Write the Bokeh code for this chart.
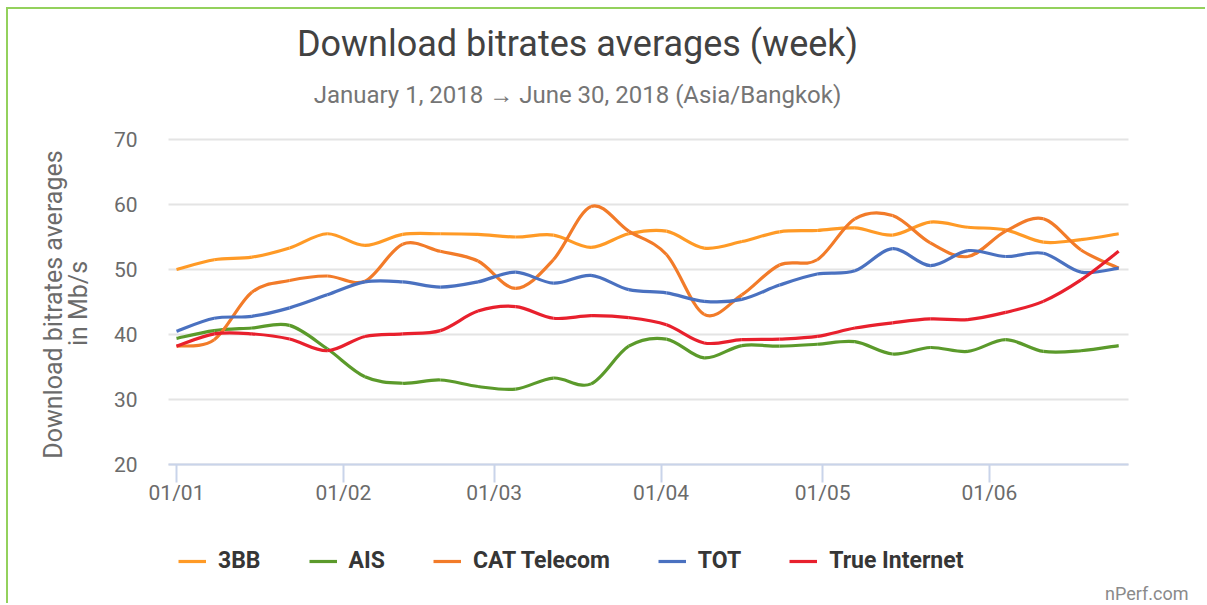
from datetime import datetime, timedelta
import numpy as np
from bokeh.plotting import figure
from bokeh.models import (Range1d, FixedTicker, DatetimeTickFormatter, Label,
                          Legend, LegendItem, ColumnDataSource)
from bokeh.embed import file_html
from bokeh.resources import INLINE

# ---------------- data ----------------
weeks = ["2018-01-01", "2018-01-08", "2018-01-15", "2018-01-22", "2018-01-29",
         "2018-02-05", "2018-02-12", "2018-02-19", "2018-02-26", "2018-03-05",
         "2018-03-12", "2018-03-19", "2018-03-26", "2018-04-02", "2018-04-09",
         "2018-04-16", "2018-04-23", "2018-04-30", "2018-05-07", "2018-05-14",
         "2018-05-21", "2018-05-28", "2018-06-04", "2018-06-11", "2018-06-18",
         "2018-06-25"]

bb3 = [50.0, 51.5, 51.9, 53.3, 55.5, 53.7, 55.4, 55.5, 55.4, 55.0, 55.3, 53.4, 55.5,
       55.9, 53.3, 54.3, 55.8, 56.0, 56.4, 55.3, 57.3, 56.5, 56.1, 54.2, 54.6, 55.5]
ais = [39.4, 40.6, 41.0, 41.4, 37.8, 33.5, 32.5, 33.0, 32.0, 31.6, 33.3, 32.4, 38.2,
       39.3, 36.4, 38.3, 38.2, 38.5, 38.9, 37.0, 38.0, 37.4, 39.2, 37.4, 37.5, 38.3]
cat = [38.2, 39.2, 46.5, 48.3, 49.0, 48.2, 53.9, 52.8, 51.3, 47.1, 51.5, 59.7, 55.9,
       52.3, 43.1, 46.1, 50.7, 51.5, 57.8, 58.3, 54.1, 52.0, 55.9, 57.8, 53.0, 50.2]
tot = [40.5, 42.5, 42.8, 44.1, 46.1, 48.1, 48.1, 47.3, 48.1, 49.6, 47.9, 49.1, 46.9,
       46.4, 45.1, 45.4, 47.6, 49.3, 49.8, 53.2, 50.6, 52.9, 52.0, 52.5, 49.6, 50.2]
true_net = [38.2, 40.1, 40.1, 39.3, 37.5, 39.7, 40.1, 40.6, 43.6, 44.3, 42.5, 42.9, 42.6,
            41.5, 38.7, 39.2, 39.3, 39.7, 41.0, 41.8, 42.4, 42.3, 43.4, 45.1, 48.4, 52.8]

series_names = ["3BB", "AIS", "CAT Telecom", "TOT", "True Internet"]
series_values = [bb3, ais, cat, tot, true_net]
series_colors = ["#ff9a26", "#5b9a2b", "#f27b29", "#4a71c0", "#e8202d"]

month_ticks = ["2018-01-01", "2018-02-01", "2018-03-01", "2018-04-01",
               "2018-05-01", "2018-06-01"]
y_ticks = [20, 30, 40, 50, 60, 70]

title_text = "Download bitrates averages (week)"
subtitle_text = "January 1, 2018 \u2192 June 30, 2018 (Asia/Bangkok)"
ylabel_outer = "Download bitrates averages"
ylabel_inner = "in Mb/s"
credit_text = "nPerf.com"

# ---------------- helpers ----------------
EPOCH = datetime(1970, 1, 1)


def ms(d):
    return (d - EPOCH).total_seconds() * 1000.0


def to_ms(strs):
    return np.array(strs, dtype="datetime64[ms]").astype("int64").astype(float)


# canvas origin on the page (after the css margin + border below)
OX, OY = 8, 9
PAGE_W, PAGE_H = 1207, 605
# page-pixel geometry of the plotting area of the reference
FL, FR, FT, FB = 168, 1128, 139, 464
X0_PX, PX_PER_DAY = 176.0, 5.384
Y_PX = (FB - FT) / 50.0
JAN1 = datetime(2018, 1, 1)


def xd(px):
    return ms(JAN1 + timedelta(days=(px - X0_PX) / PX_PER_DAY))


def yd(py):
    return 70 - (py - FT) / Y_PX


W, H = PAGE_W - OX, PAGE_H - OY
# the frame covers the whole canvas; axes are drawn at fixed data locations
p = figure(width=W, height=H, x_axis_type="datetime",
           x_range=Range1d(xd(OX), xd(PAGE_W)), y_range=Range1d(yd(PAGE_H), yd(OY)),
           output_backend="svg", toolbar_location=None,
           min_border_left=0, min_border_right=0,
           min_border_top=0, min_border_bottom=0)
p.styles = {"margin-left": "6px", "margin-top": "7px",
            "border-left": "2px solid #93d15c", "border-top": "2px solid #93d15c"}
p.outline_line_color = None
p.background_fill_color = "white"
p.border_fill_color = "white"
p.xgrid.grid_line_color = None
p.ygrid.grid_line_color = None

# x axis drawn at y = 20
xa = p.xaxis[0]
xa.fixed_location = 20
xa.bounds = (xd(FL), xd(FR))
xa.ticker = FixedTicker(ticks=list(to_ms(month_ticks)))
xa.formatter = DatetimeTickFormatter(days="%d/%m", months="%d/%m", years="%d/%m")
xa.axis_line_color = "#c9d4ea"
xa.axis_line_width = 2
xa.major_tick_line_color = "#c9d4ea"
xa.major_tick_line_width = 2
xa.major_tick_out = 18
xa.major_tick_in = 0
xa.minor_tick_line_color = None
xa.major_label_standoff = -2
xa.major_label_text_font = "Roboto"
xa.major_label_text_font_size = "21px"
xa.major_label_text_color = "#6b6b6b"

# y axis drawn at the plot's left edge; its inward ticks act as gridlines
ya = p.yaxis[0]
ya.fixed_location = xd(FL)
ya.bounds = (20, 70)
ya.ticker = FixedTicker(ticks=y_ticks)
ya.axis_line_color = None
ya.major_tick_line_color = "#e4e4e4"
ya.major_tick_line_width = 2
ya.minor_tick_line_color = None
ya.major_tick_out = 0
ya.major_tick_in = FR - FL
ya.major_label_standoff = 31
ya.major_label_text_font = "Roboto"
ya.major_label_text_font_size = "21px"
ya.major_label_text_color = "#6b6b6b"
ya.level = "underlay"

# smooth curves: cubic Bezier segments between consecutive data points
xs_all = to_ms(weeks)
legend_items = []
for name, vals, col in zip(series_names, series_values, series_colors):
    x = xs_all
    y = np.array(vals, dtype=float)
    n = len(x)
    k = 1.0 / 6.0
    i0 = np.arange(n - 1)
    im1 = np.clip(i0 - 1, 0, n - 1)
    i1 = i0 + 1
    i2 = np.clip(i0 + 2, 0, n - 1)
    src = ColumnDataSource(dict(
        x0=x[i0], y0=y[i0], x1=x[i1], y1=y[i1],
        cx0=x[i0] + (x[i1] - x[im1]) * k, cy0=y[i0] + (y[i1] - y[im1]) * k,
        cx1=x[i1] - (x[i2] - x[i0]) * k, cy1=y[i1] - (y[i2] - y[i0]) * k))
    r = p.bezier(x0="x0", y0="y0", x1="x1", y1="y1", cx0="cx0", cy0="cy0",
                 cx1="cx1", cy1="cy1", source=src, line_color=col, line_width=3.2)
    legend_items.append(LegendItem(label=name, renderers=[r]))

legend = Legend(items=legend_items, orientation="horizontal",
                location=(178 - OX, PAGE_H - 574), glyph_width=28, glyph_height=24,
                label_standoff=12, spacing=48, padding=0, margin=0,
                border_line_color=None, background_fill_alpha=0,
                label_text_font="Roboto", label_text_font_style="bold",
                label_text_font_size="23px", label_text_color="#363636",
                label_height=24)
p.add_layout(legend)

# texts
p.add_layout(Label(x=xd(577), y=yd(43), text=title_text, text_align="center",
                   text_baseline="alphabetic", text_font="Roboto",
                   text_font_size="36px", text_color="#424242"))
p.add_layout(Label(x=xd(577), y=yd(94), text=subtitle_text, text_align="center",
                   text_baseline="alphabetic", text_font="Roboto",
                   text_font_size="24px", text_color="#757575"))
p.add_layout(Label(x=xd(53), y=yd(304), text=ylabel_outer, angle=np.pi / 2,
                   text_align="center", text_baseline="middle", text_font="Roboto",
                   text_font_size="25px", text_color="#6b6b6b"))
p.add_layout(Label(x=xd(78), y=yd(303), text=ylabel_inner, angle=np.pi / 2,
                   text_align="center", text_baseline="middle", text_font="Roboto",
                   text_font_size="25px", text_color="#6b6b6b"))
p.add_layout(Label(x=xd(1188), y=yd(593), text=credit_text, text_align="right",
                   text_baseline="alphabetic", text_font="Roboto",
                   text_font_size="18px", text_color="#8a8a8a"))

open("out.html", "w").write(file_html(p, INLINE))
